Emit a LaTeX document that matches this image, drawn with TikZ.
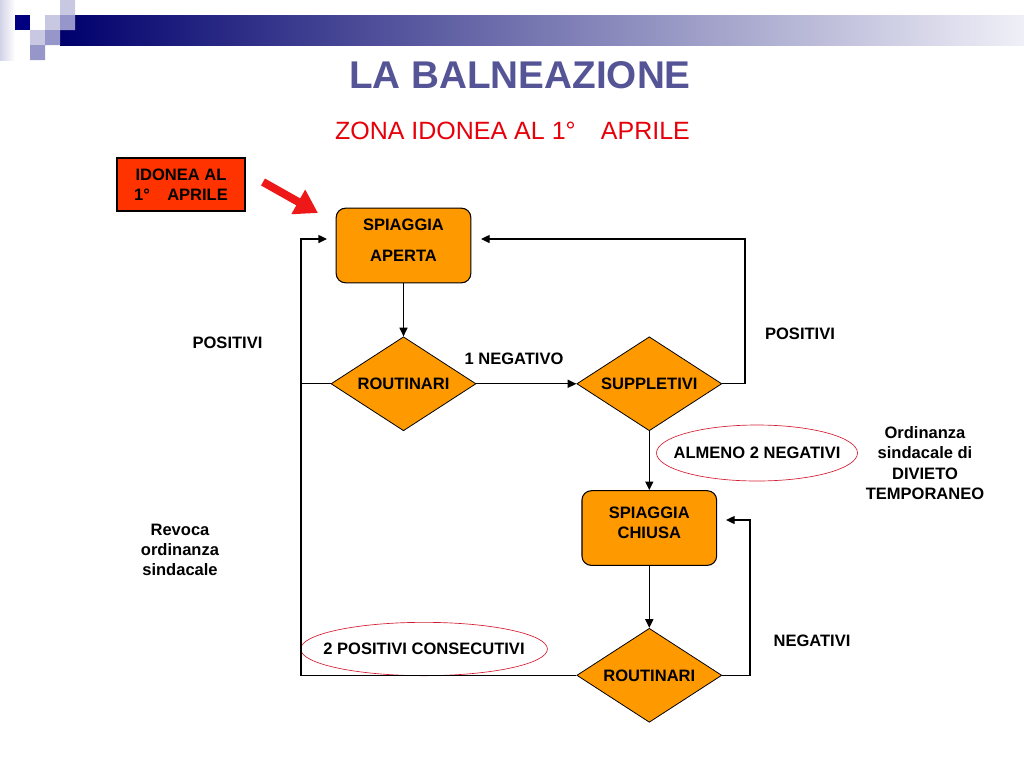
\documentclass[tikz,border=0pt]{standalone}
\usepackage{fontspec}
\setmainfont{Liberation Sans}
\usetikzlibrary{shapes.geometric,arrows.meta,positioning}
\definecolor{navy}{RGB}{0,0,128}
\definecolor{lilac}{RGB}{200,200,226}
\definecolor{lavender}{RGB}{150,150,202}
\definecolor{slate}{RGB}{84,84,150}
\definecolor{beach}{RGB}{255,153,0}
\definecolor{alarm}{RGB}{255,51,0}
\definecolor{pointer}{RGB}{238,24,24}
\definecolor{redtxt}{RGB}{230,0,10}
\definecolor{ringred}{RGB}{210,30,50}
\tikzset{
  box/.style={draw, fill=beach, rounded corners=7pt, line width=0.8pt, minimum width=101pt, minimum height=56pt, align=center, text depth=8pt, inner sep=0pt},
  choice/.style={diamond, draw, fill=beach, line width=0.6pt, shape aspect=1.5, minimum width=108.75pt, minimum height=70.5pt, inner sep=0pt},
  ring/.style={ellipse, draw=ringred, line width=0.5pt, inner xsep=-10pt, inner ysep=0pt},
  note/.style={align=center},
  arr/.style={-{Triangle[length=6.5pt,width=6pt]}, line width=1pt},
}
\begin{document}
\begin{tikzpicture}[x=0.75pt, y=-0.75pt, font=\fontsize{12.4}{15.2}\selectfont\bfseries]
  \useasboundingbox (0,0) rectangle (1024,768);
  % Header band
  \shade[left color=lilac!80, right color=white] (0,0) rectangle (15,60);
  \shade[left color=navy!85!black, right color=white!94!navy] (60,15) rectangle (1024,45);
  \fill[navy] (15,15) rectangle (30,30);
  \fill[lilac] (45,15) rectangle (60,30) (60,0) rectangle (75,15) (30,30) rectangle (45,45);
  \fill[lavender] (60,15) rectangle (75,30) (45,30) rectangle (60,45) (30,45) rectangle (45,60);
  % Titles
  \node[text=slate, font=\fontsize{29}{34}\selectfont\bfseries] (title) at (520,75) {LA BALNEAZIONE};
  \node[text=redtxt, font=\fontsize{18.75}{22}\selectfont] (zone) at (512.5,131) {ZONA IDONEA AL 1°\hspace{19pt}APRILE};
  % Define nodes
  \node[draw, fill=alarm, line width=0.8pt, minimum width=96pt, minimum height=39.75pt, align=center] (start) at (181,184.5) {IDONEA AL\\1°\hspace{13pt}APRILE};
  \node[box] (aperta) at (403.5,245.5) {SPIAGGIA\\[8pt]APERTA};
  \node[choice, below=39.75pt of aperta] (r1) {ROUTINARI};
  \node[choice, right=75pt of r1] (supp) {SUPPLETIVI};
  \node[box, below=44.25pt of supp] (chiusa) {SPIAGGIA\\CHIUSA};
  \node[choice, below=46.5pt of chiusa] (r2) {ROUTINARI};
  % Labels
  \node[ring, minimum width=150.75pt, minimum height=42pt] (neg2) at (757,453) {ALMENO 2 NEGATIVI};
  \node[ring, minimum width=181.5pt, minimum height=40pt] (pos2) at (424,649) {2 POSITIVI CONSECUTIVI};
  \node (posL) at (227.5,343) {POSITIVI};
  \node (posR) at (800,334) {POSITIVI};
  \node (neg1) at (514,359) {1 NEGATIVO};
  \node (negR) at (812,641) {NEGATIVI};
  \node[note] (ord) at (925,463) {Ordinanza\\sindacale di\\DIVIETO\\TEMPORANEO};
  \node[note] (rev) at (180,550) {Revoca\\ordinanza\\sindacale};
  % Free ends
  \coordinate (inL) at (327,239);
  \coordinate (inR) at (481,239);
  \coordinate (inC) at (726,520);
  \coordinate (railL) at (301,673);
  \coordinate (railR) at (745,383);
  \coordinate (railC) at (750,673);
  \coordinate (tail) at (263,182);
  \coordinate (tip) at (318,213);
  % Connect nodes
  \draw[arr] (aperta) -- (r1);
  \draw[arr] (r1) -- (supp);
  \draw[arr] (supp) -- (chiusa);
  \draw[arr] (chiusa) -- (r2);
  \draw[arr] (r2.west) -- (r2.west -| railL) |- (inL);
  \draw[line width=1pt] (r1.west) -- (r1.west -| railL);
  \draw[arr] (supp.east) -- (supp.east -| railR) |- (inR);
  \draw[arr] (r2.east) -- (r2.east -| railC) |- (inC);
  \draw[pointer, line width=6pt, -{Triangle[length=17pt,width=20pt]}] (tail) -- (tip);
\end{tikzpicture}
\end{document}
